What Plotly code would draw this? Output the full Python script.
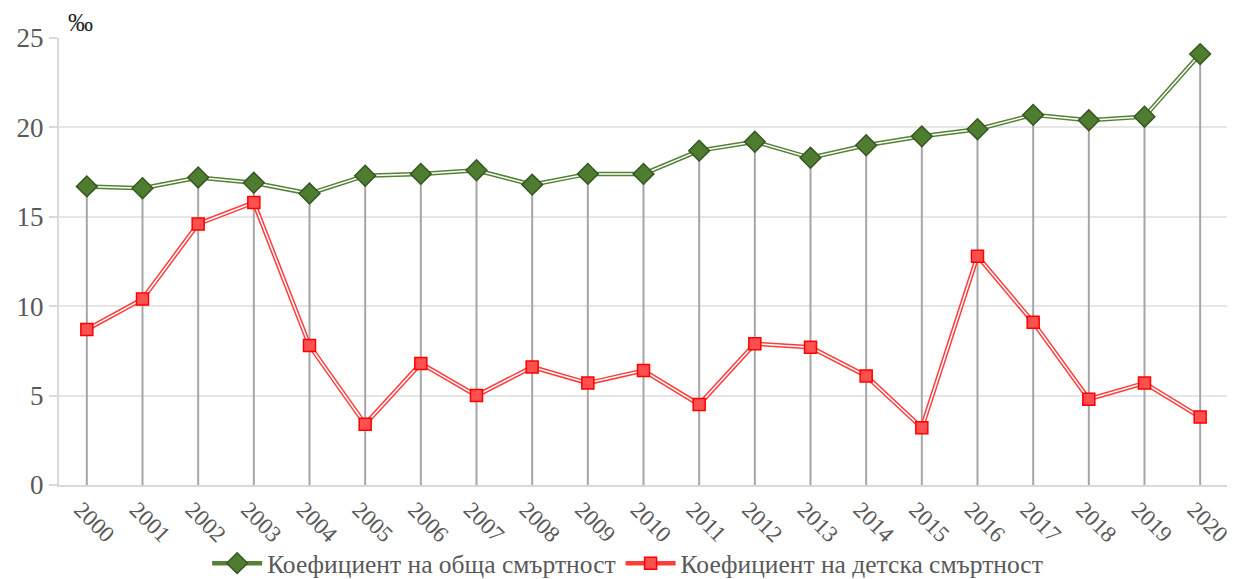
import plotly.graph_objects as go

years = [str(y) for y in range(2000, 2021)]
general_mortality = [16.7, 16.6, 17.2, 16.9, 16.3, 17.3, 17.4, 17.6, 16.8, 17.4, 17.4,
                     18.7, 19.2, 18.3, 19.0, 19.5, 19.9, 20.7, 20.4, 20.6, 24.1]
infant_mortality = [8.7, 10.4, 14.6, 15.8, 7.8, 3.4, 6.8, 5.0, 6.6, 5.7, 6.4,
                    4.5, 7.9, 7.7, 6.1, 3.2, 12.8, 9.1, 4.8, 5.7, 3.8]
name_general = 'Коефициент на обща смъртност'
name_infant = 'Коефициент на детска смъртност'

font = 'Liberation Serif'

fig = go.Figure()

# drop lines from 0 to the higher of the two series
drop_x, drop_y = [], []
for yr, a, b in zip(years, general_mortality, infant_mortality):
    drop_x += [yr, yr, None]
    drop_y += [0, max(a, b), None]
fig.add_trace(go.Scatter(x=drop_x, y=drop_y, mode='lines',
                         line=dict(color='#a6a6a6', width=2),
                         showlegend=False, hoverinfo='skip'))

# double lines: thick coloured line with a thin white line on top
for vals, col, mcol, mline, sym, name in [
    (general_mortality, '#548235', '#4f7d30', '#375623', 'diamond', name_general),
    (infant_mortality, '#ff3b3b', '#ff5050', '#ff0000', 'square', name_infant),
]:
    msize = 16 if sym == 'diamond' else 12
    fig.add_trace(go.Scatter(x=years, y=vals, mode='lines', name=name,
                             line=dict(color=col, width=4.5),
                             showlegend=False, hoverinfo='skip'))
    fig.add_trace(go.Scatter(x=years, y=vals, mode='lines',
                             line=dict(color='white', width=1.5),
                             showlegend=False, hoverinfo='skip'))
    fig.add_trace(go.Scatter(x=years, y=vals, mode='markers', name=name,
                             marker=dict(symbol=sym, size=msize,
                                         color=mcol, line=dict(color=mline, width=1.5)),
                             showlegend=False))
    # legend entry
    fig.add_trace(go.Scatter(x=[None], y=[None], mode='lines+markers', name=name,
                             line=dict(color=col, width=4.5),
                             marker=dict(symbol=sym, size=msize,
                                         color=mcol, line=dict(color=mline, width=1.5))))

fig.add_annotation(text='‰', xref='paper', yref='paper', x=0.006, y=1.0,
                   xanchor='left', yanchor='bottom', showarrow=False,
                   font=dict(family=font, size=25, color='#262626'))

# page has an 8px body margin, so the figure is a bit smaller than the window
fig.update_layout(
    width=1227, height=571,
    margin=dict(l=51, r=7, t=30, b=94),
    plot_bgcolor='white', paper_bgcolor='white',
    font=dict(family=font, size=24, color='#595959'),
    showlegend=True,
    legend=dict(orientation='h', x=0.505, xanchor='center', xref='container',
                y=0.027, yanchor='middle', yref='container',
                bgcolor='rgba(0,0,0,0)',
                font=dict(family=font, size=25.5, color='#595959'),
                itemwidth=50, tracegroupgap=0),
    xaxis=dict(type='category', tickangle=45, showgrid=False, automargin=False,
               showline=True, linecolor='#d9d9d9', linewidth=2,
               tickfont=dict(family=font, size=23, color='#595959'),
               ticklabelshift=-6,
               ticks='', range=[-0.5, 20.5]),
    yaxis=dict(range=[0, 25], dtick=5, showgrid=True, gridcolor='#e6e6e6', gridwidth=2,
               automargin=False,
               showline=True, linecolor='#d9d9d9', linewidth=2,
               ticks='outside', ticklen=8, tickcolor='#d9d9d9', tickwidth=2,
               zeroline=False, tickfont=dict(family=font, size=27, color='#595959')),
)

fig.write_html("out.html")
